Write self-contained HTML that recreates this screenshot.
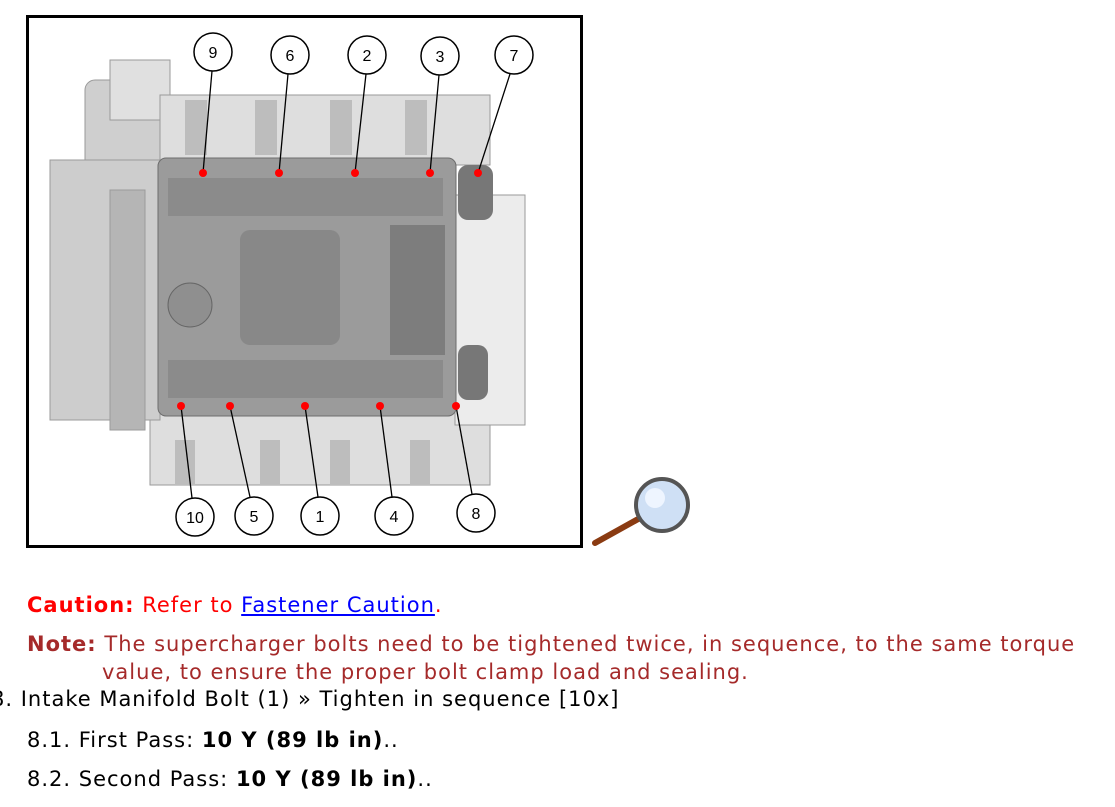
<!DOCTYPE html>
<html><head><meta charset="utf-8"><style>
body{margin:0;width:1115px;height:807px;background:#fff;position:relative;overflow:hidden;font-family:"DejaVu Sans","Liberation Sans",sans-serif;font-size:21px;letter-spacing:1px}
.t{position:absolute;white-space:nowrap}
</style></head><body>
<svg style="position:absolute;left:0;top:0" width="1115" height="560">
<rect x="27.5" y="16.5" width="554" height="530" fill="#fff" stroke="#000" stroke-width="3"/>
<g fill="#d4d4d4" stroke="#9a9a9a" stroke-width="1">
<rect x="85" y="80" width="80" height="110" rx="10" fill="#cfcfcf"/>
<rect x="110" y="60" width="60" height="60" fill="#e0e0e0"/>
<rect x="160" y="95" width="330" height="70" fill="#dedede"/>
<rect x="150" y="410" width="340" height="75" fill="#dedede"/>
<rect x="50" y="160" width="110" height="260" fill="#cdcdcd"/>
<rect x="455" y="195" width="70" height="230" fill="#ececec"/>
<rect x="110" y="190" width="35" height="240" fill="#b5b5b5"/>
</g>
<g fill="#bdbdbd">
<rect x="185" y="100" width="22" height="55"/><rect x="255" y="100" width="22" height="55"/><rect x="330" y="100" width="22" height="55"/><rect x="405" y="100" width="22" height="55"/>
<rect x="175" y="440" width="20" height="45"/><rect x="260" y="440" width="20" height="45"/><rect x="330" y="440" width="20" height="45"/><rect x="410" y="440" width="20" height="45"/>
</g>
<rect x="158" y="158" width="298" height="258" rx="8" fill="#9b9b9b" stroke="#6d6d6d"/>
<rect x="168" y="178" width="275" height="38" fill="#8b8b8b"/>
<rect x="168" y="360" width="275" height="38" fill="#8b8b8b"/>
<rect x="240" y="230" width="100" height="115" rx="10" fill="#888"/>
<rect x="390" y="225" width="55" height="130" fill="#7d7d7d"/>
<circle cx="190" cy="305" r="22" fill="#8f8f8f" stroke="#666"/>
<rect x="458" y="165" width="35" height="55" rx="10" fill="#777"/>
<rect x="458" y="345" width="30" height="55" rx="10" fill="#777"/>
<g stroke="#000" stroke-width="1.3" fill="none">
<line x1="212" y1="71" x2="203" y2="173"/><line x1="288" y1="74" x2="279" y2="173"/><line x1="366" y1="74" x2="355" y2="173"/><line x1="439" y1="75" x2="430" y2="173"/><line x1="510" y1="74" x2="478" y2="173"/>
<line x1="181" y1="406" x2="192" y2="498"/><line x1="230" y1="406" x2="250" y2="497"/><line x1="305" y1="406" x2="318" y2="497"/><line x1="380" y1="406" x2="392" y2="497"/><line x1="456" y1="406" x2="472" y2="494"/>
</g>
<g fill="#fff" stroke="#000" stroke-width="1.5">
<circle cx="213" cy="52" r="19"/><circle cx="290" cy="55" r="19"/><circle cx="367" cy="55" r="19"/><circle cx="440" cy="56" r="19"/><circle cx="514" cy="55" r="19"/>
<circle cx="195" cy="517" r="19"/><circle cx="254" cy="516" r="19"/><circle cx="320" cy="516" r="19"/><circle cx="394" cy="516" r="19"/><circle cx="476" cy="513" r="19"/>
</g>
<g font-family="Liberation Sans,sans-serif" font-size="16" text-anchor="middle" letter-spacing="0">
<text x="213" y="58">9</text><text x="290" y="61">6</text><text x="367" y="61">2</text><text x="440" y="62">3</text><text x="514" y="61">7</text>
<text x="195" y="523">10</text><text x="254" y="522">5</text><text x="320" y="522">1</text><text x="394" y="522">4</text><text x="476" y="519">8</text>
</g>
<g fill="#f00">
<circle cx="203" cy="173" r="4"/><circle cx="279" cy="173" r="4"/><circle cx="355" cy="173" r="4"/><circle cx="430" cy="173" r="4"/><circle cx="478" cy="173" r="4"/>
<circle cx="181" cy="406" r="4"/><circle cx="230" cy="406" r="4"/><circle cx="305" cy="406" r="4"/><circle cx="380" cy="406" r="4"/><circle cx="456" cy="406" r="4"/>
</g>
<line x1="595" y1="543" x2="640" y2="518" stroke="#8a3b12" stroke-width="6" stroke-linecap="round"/>
<circle cx="662" cy="505" r="26" fill="#cfe0f5" stroke="#555" stroke-width="4"/>
<circle cx="655" cy="498" r="10" fill="#eef5ff"/>
</svg>
<div class="t" style="left:27px;top:593px;color:#f00"><b>Caution:</b> Refer to <span style="color:#00f;text-decoration:underline">Fastener Caution</span>.</div>
<div class="t" style="left:27px;top:632px;color:#a52a2a"><b>Note:</b> The supercharger bolts need to be tightened twice, in sequence, to the same torque</div>
<div class="t" style="left:102px;top:660px;color:#a52a2a">value, to ensure the proper bolt clamp load and sealing.</div>
<div class="t" style="left:-9px;top:687px">8. Intake Manifold Bolt (1) » Tighten in sequence [10x]</div>
<div class="t" style="left:27px;top:728px">8.1. First Pass: <b>10 Y (89 lb in)</b>..</div>
<div class="t" style="left:27px;top:767px">8.2. Second Pass: <b>10 Y (89 lb in)</b>..</div>
</body></html>
